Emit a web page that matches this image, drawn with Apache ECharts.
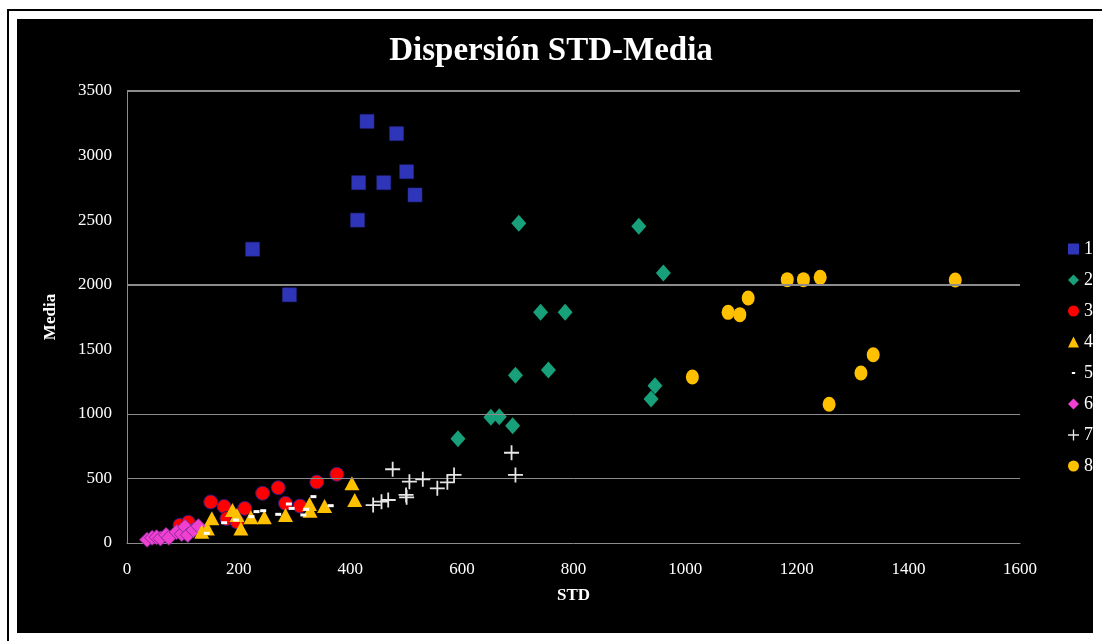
<!DOCTYPE html>
<html>
<head>
<meta charset="utf-8">
<title>Dispersión STD-Media</title>
<script src="https://cdn.jsdelivr.net/npm/echarts@6/dist/echarts.min.js"></script>
<style>
  html, body { margin: 0; padding: 0; background: #ffffff; }
  #frame { position: absolute; left: 7px; top: 9px; width: 1102px; height: 640px;
           border-left: 2px solid #000; border-top: 2px solid #000; }
  #panel { position: absolute; left: 17px; top: 19px; width: 1076px; height: 614px; background: #000; }
  #chart { position: absolute; left: 0; top: 0; width: 1102px; height: 641px; }
</style>
</head>
<body>
<div id="frame"></div>
<div id="panel"></div>
<div id="chart"></div>
<script>
// STD (x) vs Media (y) for each group
const group1 = [[225,2275],[291,1922],[413,2500],[415,2790],[430,3265],[460,2790],[483,3170],[501,2875],[516,2695]];
const group2 = [[593,808],[652,973],[667,978],[691,908],[696,1298],[702,2475],[741,1787],[755,1340],[785,1787],[917,2452],[939,1115],[946,1218],[961,2090]];
const group3 = [[95,138],[110,160],[150,318],[174,283],[179,190],[197,165],[211,268],[243,385],[271,428],[284,307],[310,286],[340,472],[376,532]];
const group4 = [[134,88],[144,113],[152,191],[189,255],[197,217],[204,113],[222,199],[246,199],[284,217],[327,302],[328,250],[354,287],[403,462],[408,333]];
const group5 = [[143,75],[174,157],[195,178],[223,204],[232,243],[244,250],[271,222],[290,302],[295,268],[316,217],[321,261],[334,359],[365,289]];
const group6 = [[36,25],[45,40],[53,45],[60,35],[70,62],[75,40],[89,85],[98,70],[104,125],[109,62],[119,100],[128,130]];
const group7 = [[441,294],[456,320],[468,333],[476,571],[500,372],[501,354],[506,475],[530,493],[556,423],[574,470],[586,527],[689,699],[696,527]];
const group8 = [[1013,1285],[1077,1786],[1098,1768],[1113,1897],[1183,2039],[1212,2039],[1242,2057],[1258,1074],[1315,1316],[1337,1458],[1484,2036]];

const groupNames = ['1','2','3','4','5','6','7','8'];
const xTicks = { min: 0, max: 1600, interval: 200 };
const yTicks = { min: 0, max: 3500, interval: 500 };
const gridLineValues = [500, 1000, 2000, 3500];

const serif = '"Liberation Serif", "DejaVu Serif", serif';
const crossPath = 'path://M4.4,0h1.2v4.4h4.4v1.2h-4.4v4.4h-1.2v-4.4h-4.4v-1.2h4.4z';
const dotIcon = 'path://M0,0h0.01v0.01z M10,10h0.01v0.01z M3.5,4h3v2h-3z';
const plain = v => String(v);

const chart = echarts.init(document.getElementById('chart'), null, { renderer: 'canvas' });

chart.setOption({
  backgroundColor: 'transparent',
  animation: false,
  title: {
    text: 'Dispersión STD-Media',
    left: 'center',
    top: 30,
    textStyle: { color: '#ffffff', fontFamily: serif, fontWeight: 'bold', fontSize: 33 }
  },
  grid: { left: 127, right: 82, top: 91, bottom: 98 },
  legend: {
    orient: 'vertical',
    left: 1063,
    top: 235,
    itemGap: 13,
    itemWidth: 11,
    itemHeight: 11,
    itemStyle: { borderWidth: 0 },
    textStyle: { color: '#ffffff', fontFamily: serif, fontSize: 18 },
    data: [
      { name: '1', icon: 'rect' },
      { name: '2', icon: 'diamond' },
      { name: '3', icon: 'circle' },
      { name: '4', icon: 'triangle' },
      { name: '5', icon: dotIcon },
      { name: '6', icon: 'diamond' },
      { name: '7', icon: crossPath },
      { name: '8', icon: 'circle' }
    ]
  },
  xAxis: {
    type: 'value',
    min: xTicks.min, max: xTicks.max, interval: xTicks.interval,
    name: 'STD',
    nameLocation: 'middle',
    nameGap: 44,
    nameTextStyle: { color: '#ffffff', fontFamily: serif, fontWeight: 'bold', fontSize: 17 },
    axisLine: { show: true, lineStyle: { color: '#8c8c8c', width: 1 } },
    axisTick: { show: false },
    splitLine: { show: false },
    axisLabel: { color: '#ffffff', fontFamily: serif, fontSize: 17, margin: 18, formatter: plain }
  },
  yAxis: {
    type: 'value',
    min: yTicks.min, max: yTicks.max, interval: yTicks.interval,
    name: 'Media',
    nameLocation: 'middle',
    nameGap: 68,
    nameTextStyle: { color: '#ffffff', fontFamily: serif, fontWeight: 'bold', fontSize: 17 },
    axisLine: { show: true, lineStyle: { color: '#8c8c8c', width: 1 } },
    axisTick: { show: false },
    splitLine: { show: false },
    axisLabel: { color: '#ffffff', fontFamily: serif, fontSize: 17, margin: 15, formatter: plain }
  },
  series: [
    {
      name: 'grid',
      type: 'scatter',
      data: [],
      z: 1,
      silent: true,
      markLine: {
        silent: true,
        symbol: 'none',
        label: { show: false },
        animation: false,
        data: gridLineValues.map(v => ({
          yAxis: v,
          lineStyle: { color: '#8c8c8c', type: 'solid', width: (v === 2000 || v === 3500) ? 2 : 1 }
        }))
      }
    },
    { name: groupNames[0], type: 'scatter', z: 3, data: group1, symbol: 'rect', symbolSize: 14,
      itemStyle: { color: '#2F35B8', borderColor: '#26298f', borderWidth: 0.5, opacity: 1 } },
    { name: groupNames[1], type: 'scatter', z: 3, data: group2, symbol: 'diamond', symbolSize: [15, 17],
      itemStyle: { color: '#17A07A', opacity: 1 } },
    { name: groupNames[2], type: 'scatter', z: 3, data: group3, symbol: 'circle', symbolSize: 14,
      itemStyle: { color: '#FF0000', borderColor: '#2E1C7C', borderWidth: 1, opacity: 1 } },
    { name: groupNames[3], type: 'scatter', z: 4, data: group4, symbol: 'triangle', symbolSize: [15, 14],
      itemStyle: { color: '#FFC000', opacity: 1 } },
    { name: groupNames[4], type: 'scatter', z: 5, data: group5, symbol: 'rect', symbolSize: [6, 3],
      itemStyle: { color: '#ffffff', opacity: 1 } },
    { name: groupNames[5], type: 'scatter', z: 3, data: group6, symbol: 'diamond', symbolSize: [15, 15],
      itemStyle: { color: '#F040D0', borderColor: '#8A2BA0', borderWidth: 1, opacity: 1 } },
    { name: groupNames[6], type: 'scatter', z: 5, data: group7, symbol: crossPath, symbolSize: 15,
      itemStyle: { color: '#e6e6e6', opacity: 1 } },
    { name: groupNames[7], type: 'scatter', z: 3, data: group8, symbol: 'circle', symbolSize: [13, 15],
      itemStyle: { color: '#FFC000', opacity: 1 } }
  ]
});
</script>
</body>
</html>
